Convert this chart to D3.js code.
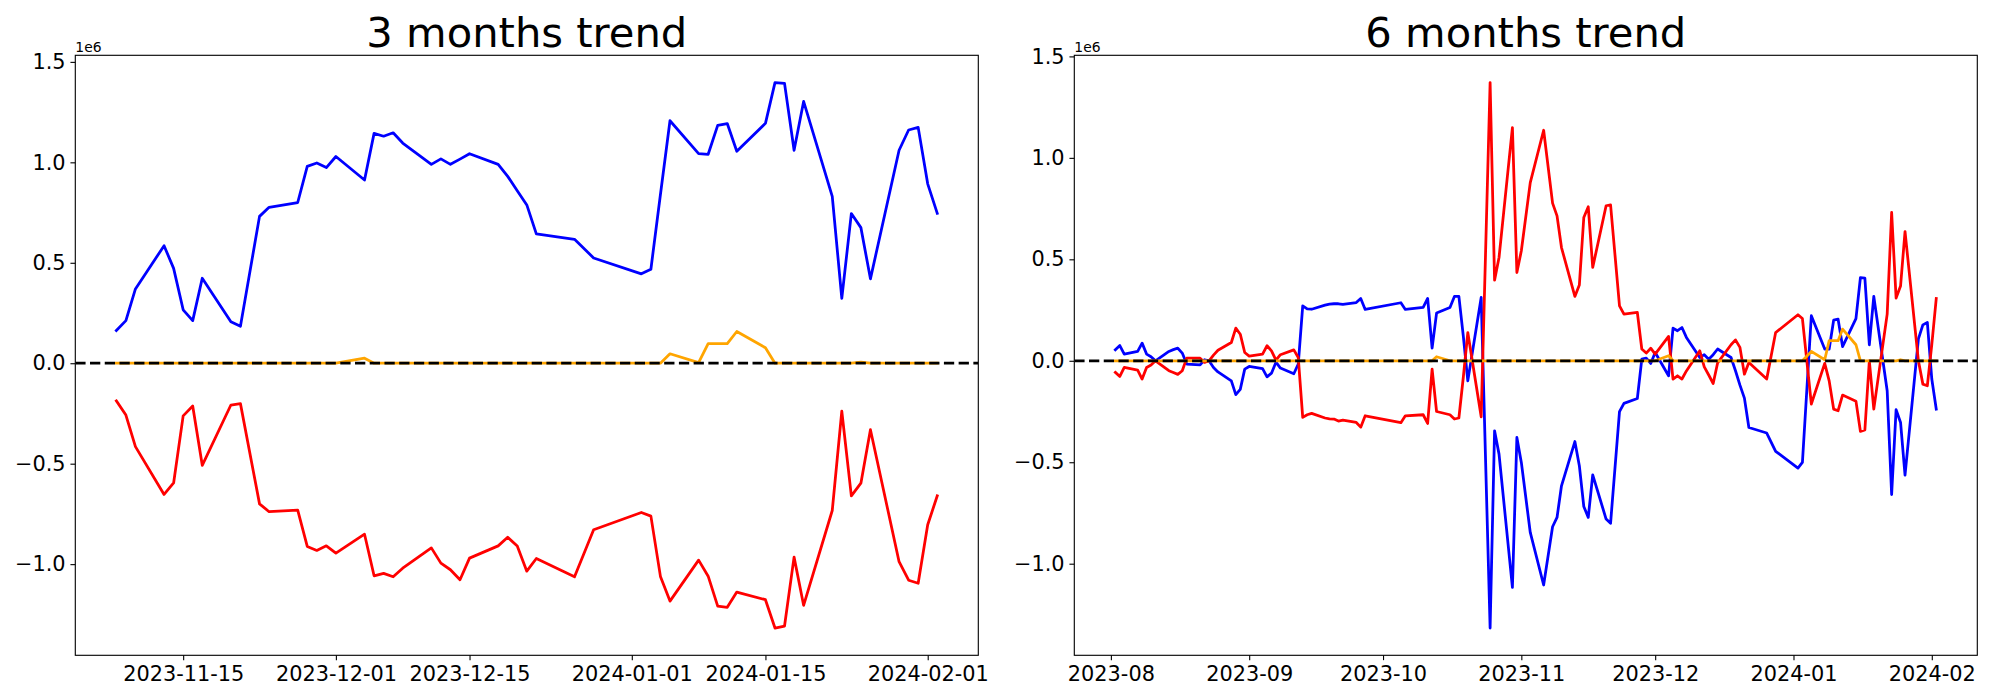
<!DOCTYPE html>
<html>
<head>
<meta charset="utf-8">
<script src="https://cdn.jsdelivr.net/npm/d3@7"></script>
<style>
  html, body { margin: 0; padding: 0; background: #ffffff; }
  svg { display: block; }
  text { font-family: "DejaVu Sans", sans-serif; }
</style>
</head>
<body>
<svg id="chart" width="2000" height="700"></svg>
<script>
// ---------------- data: 3 months ----------------
const dates3 = ["2023-11-08","2023-11-09","2023-11-10","2023-11-13","2023-11-14","2023-11-15","2023-11-16","2023-11-17",
  "2023-11-20","2023-11-21","2023-11-23","2023-11-24","2023-11-27","2023-11-28","2023-11-29","2023-11-30","2023-12-01",
  "2023-12-04","2023-12-05","2023-12-06","2023-12-07","2023-12-08","2023-12-11","2023-12-12","2023-12-13","2023-12-14",
  "2023-12-15","2023-12-18","2023-12-19","2023-12-20","2023-12-21","2023-12-22","2023-12-26","2023-12-28","2024-01-02",
  "2024-01-03","2024-01-04","2024-01-05","2024-01-08","2024-01-09","2024-01-10","2024-01-11","2024-01-12","2024-01-15",
  "2024-01-16","2024-01-17","2024-01-18","2024-01-19","2024-01-22","2024-01-23","2024-01-24","2024-01-25","2024-01-26",
  "2024-01-29","2024-01-30","2024-01-31","2024-02-01","2024-02-02"];
const blue3 = [0.163,0.212,0.370,0.585,0.472,0.266,0.212,0.423,
  0.207,0.184,0.731,0.776,0.800,0.980,0.997,0.974,1.029,
  0.912,1.144,1.130,1.147,1.096,0.990,1.017,0.990,1.016,
  1.043,0.990,0.930,0.859,0.788,0.644,0.617,0.524,0.445,
  0.468,0.840,1.207,1.043,1.040,1.184,1.193,1.055,1.194,
  1.397,1.393,1.060,1.303,0.831,0.323,0.745,0.675,0.420,
  1.060,1.161,1.174,0.893,0.746];
const red3 = [-0.187,-0.258,-0.415,-0.653,-0.596,-0.262,-0.213,-0.508,
  -0.208,-0.201,-0.700,-0.739,-0.731,-0.912,-0.932,-0.909,-0.945,
  -0.851,-1.058,-1.046,-1.063,-1.020,-0.919,-0.995,-1.028,-1.078,
  -0.970,-0.909,-0.866,-0.910,-1.035,-0.972,-1.063,-0.829,-0.743,
  -0.761,-1.061,-1.184,-0.980,-1.060,-1.209,-1.215,-1.139,-1.177,
  -1.318,-1.308,-0.965,-1.205,-0.733,-0.239,-0.660,-0.597,-0.331,
  -0.988,-1.080,-1.095,-0.804,-0.660];
const orange3 = [0,0,0,0,0,0,0,0,
  0,0,0,0,0,0,0,0,0,
  0.025,0,0,0,0,0,0,0,0,
  0,0,0,0,0,0,0,0,0,
  0,0,0.047,0.003,0.098,0.098,0.098,0.158,0.077,
  0,0,0,0,0,0,0,0.005,0,
  0,0,0,0,0];
const xTicks3 = ["2023-11-15","2023-12-01","2023-12-15","2024-01-01","2024-01-15","2024-02-01"];

// ---------------- data: 6 months ----------------
const dates6 = ["2023-08-02","2023-08-03","2023-08-04","2023-08-07","2023-08-08","2023-08-09","2023-08-10","2023-08-11",
  "2023-08-14","2023-08-15","2023-08-16","2023-08-17","2023-08-18","2023-08-21","2023-08-22","2023-08-23","2023-08-24",
  "2023-08-25","2023-08-28","2023-08-29","2023-08-30","2023-08-31","2023-09-01","2023-09-04","2023-09-05","2023-09-06",
  "2023-09-07","2023-09-08","2023-09-11","2023-09-12","2023-09-13","2023-09-14","2023-09-15","2023-09-18","2023-09-19",
  "2023-09-20","2023-09-21","2023-09-22","2023-09-25","2023-09-26","2023-09-27","2023-10-05","2023-10-06","2023-10-10",
  "2023-10-11","2023-10-12","2023-10-13","2023-10-16","2023-10-17","2023-10-18","2023-10-19","2023-10-20","2023-10-23",
  "2023-10-25","2023-10-26","2023-10-27","2023-10-30","2023-10-31","2023-11-01","2023-11-03","2023-11-06","2023-11-08",
  "2023-11-09","2023-11-10","2023-11-13","2023-11-14","2023-11-15","2023-11-16","2023-11-17","2023-11-20","2023-11-21",
  "2023-11-23","2023-11-24","2023-11-27","2023-11-28","2023-11-29","2023-11-30","2023-12-01","2023-12-04","2023-12-05",
  "2023-12-06","2023-12-07","2023-12-08","2023-12-11","2023-12-12","2023-12-13","2023-12-14","2023-12-15","2023-12-18",
  "2023-12-19","2023-12-20","2023-12-21","2023-12-22","2023-12-26","2023-12-28","2024-01-02","2024-01-03","2024-01-05",
  "2024-01-08","2024-01-09","2024-01-10","2024-01-11","2024-01-12","2024-01-15","2024-01-16","2024-01-17","2024-01-18",
  "2024-01-19","2024-01-22","2024-01-23","2024-01-24","2024-01-25","2024-01-26","2024-01-29","2024-01-30","2024-01-31",
  "2024-02-01","2024-02-02"];
const blue6 = [0.054,0.075,0.033,0.046,0.087,0.033,0.020,0.000,
  0.046,0.055,0.062,0.038,-0.016,-0.020,0.005,0.000,-0.033,
  -0.055,-0.099,-0.167,-0.141,-0.041,-0.028,-0.039,-0.079,-0.061,
  -0.007,-0.036,-0.064,-0.016,0.271,0.256,0.254,0.274,0.279,
  0.281,0.281,0.278,0.287,0.307,0.253,0.286,0.253,0.263,
  0.307,0.062,0.235,0.263,0.317,0.317,0.120,-0.099,0.312,
  -1.317,-0.345,-0.460,-1.117,-0.378,-0.501,-0.846,-1.105,-0.818,
  -0.772,-0.616,-0.398,-0.517,-0.718,-0.772,-0.562,-0.780,-0.801,
  -0.251,-0.210,-0.186,0.008,0.013,-0.013,0.041,-0.074,0.161,
  0.148,0.164,0.115,0.016,0.030,0.008,0.030,0.058,0.016,
  -0.049,-0.120,-0.184,-0.329,-0.356,-0.446,-0.529,-0.501,0.222,
  0.058,0.058,0.200,0.205,0.070,0.208,0.410,0.407,0.079,
  0.317,-0.148,-0.659,-0.241,-0.304,-0.563,0.108,0.177,0.189,
  -0.090,-0.238];
const red6 = [-0.057,-0.077,-0.033,-0.046,-0.090,-0.033,-0.021,0.000,
  -0.049,-0.058,-0.067,-0.049,0.013,0.013,-0.008,0.000,0.028,
  0.052,0.090,0.161,0.131,0.041,0.023,0.033,0.074,0.049,
  0.003,0.030,0.054,0.016,-0.279,-0.266,-0.259,-0.282,-0.286,
  -0.287,-0.297,-0.292,-0.304,-0.327,-0.271,-0.305,-0.271,-0.266,
  -0.309,-0.041,-0.250,-0.266,-0.287,-0.282,-0.080,0.139,-0.276,
  1.371,0.397,0.509,1.149,0.435,0.542,0.878,1.136,0.777,
  0.714,0.558,0.317,0.373,0.706,0.759,0.460,0.764,0.768,
  0.271,0.230,0.238,0.058,0.038,0.062,0.033,0.120,-0.090,
  -0.074,-0.090,-0.050,0.049,-0.030,-0.070,-0.112,-0.010,0.079,
  0.103,0.066,-0.066,-0.008,-0.090,0.139,0.227,0.208,-0.213,
  -0.013,-0.099,-0.238,-0.246,-0.169,-0.199,-0.348,-0.341,0.000,
  -0.238,0.230,0.731,0.309,0.369,0.637,0.000,-0.115,-0.123,
  0.080,0.307];
const orange6 = [0,0,0,0,0,0,0,0,
  0,0,0,0,0,0,0,0,0,
  0,0,0,0,0,0,0,0,0,
  0,0,0,0,0,0,0,0,0,
  0,0,0,0,0,0,0,0,0,
  0,0,0.020,0,0,0,0,0,0,
  0,0,0,0,0,0,0,0,0,
  0,0,0,0,0,0,0,0,0,
  0,0,0,0,0,0,0,0.025,0,
  0,0,0,0,0,0,0,0,0,
  0,0,0,0,0,0,0,0,0.046,
  0.005,0.099,0.099,0.099,0.156,0.079,0,0,0,
  0,0,0,0,0.005,0,0,0,0,
  0,0];
const xTicks6 = ["2023-08-01","2023-09-01","2023-10-01","2023-11-01","2023-12-01","2024-01-01","2024-02-01"];
const yTicks = [-1.0,-0.5,0.0,0.5,1.0,1.5];
const titles = ["3 months trend","6 months trend"];

// ---------------- drawing ----------------
const svg = d3.select("#chart");
svg.append("rect").attr("width",2000).attr("height",700).attr("fill","#fff");
const parse = d3.utcParse("%Y-%m-%d");
const PT = 100/72;

function panel(opts){
  const {left, right, top, bottom, dates, blue, red, orange, xTicks, xFmt, title, id} = opts;
  const ds = dates.map(parse);
  const ext = d3.extent(ds);
  const span = ext[1]-ext[0];
  const x = d3.scaleUtc()
    .domain([new Date(+ext[0]-span*0.05), new Date(+ext[1]+span*0.05)])
    .range([left,right]);
  const all = blue.concat(red, orange);
  const lo = d3.min(all), hi = d3.max(all), pad = (hi-lo)*0.05;
  const y = d3.scaleLinear().domain([lo-pad, hi+pad]).range([bottom, top]);

  const g = svg.append("g");
  g.append("clipPath").attr("id","clip"+id).append("rect")
    .attr("x",left).attr("y",top).attr("width",right-left).attr("height",bottom-top);
  const plot = g.append("g").attr("clip-path","url(#clip"+id+")");

  const series = [[blue,"#0000ff"],[red,"#ff0000"],[orange,"#ffa500"]];
  series.forEach(([vals,col]) => {
    const line = d3.line().x((d,i)=>x(ds[i])).y(d=>y(d));
    plot.append("path").datum(vals).attr("d",line)
      .attr("fill","none").attr("stroke",col).attr("stroke-width",2*PT)
      .attr("stroke-linejoin","round").attr("stroke-linecap","square");
  });
  // zero line
  plot.append("line").attr("x1",left).attr("x2",right).attr("y1",y(0)).attr("y2",y(0))
    .attr("stroke","#000").attr("stroke-width",2*PT)
    .attr("stroke-dasharray",(3.7*2*PT)+","+(1.6*2*PT));

  // axes
  const ya = d3.axisLeft(y).tickValues(yTicks).tickSize(3.5*PT).tickPadding(3.5*PT)
    .tickFormat(d => d3.format(".1f")(d).replace("-","\u2212"));
  const yg = g.append("g").attr("transform",`translate(${left},0)`).call(ya);
  const xa = d3.axisBottom(x).tickValues(xTicks.map(parse)).tickSize(3.5*PT).tickPadding(3.5*PT+1.2)
    .tickFormat(xFmt);
  const xg = g.append("g").attr("transform",`translate(0,${bottom})`).call(xa);
  [yg,xg].forEach(a => {
    a.select(".domain").remove();
    a.selectAll(".tick line").attr("stroke","#000").attr("stroke-width",0.8*PT);
    a.selectAll(".tick text").attr("fill","#000").style("font-size","20.83px")
      .style("font-family","'DejaVu Sans', sans-serif");
  });
  // frame
  g.append("rect").attr("x",left).attr("y",top).attr("width",right-left).attr("height",bottom-top)
    .attr("fill","none").attr("stroke","#000").attr("stroke-width",0.8*PT);
  // offset text
  g.append("text").attr("x",left).attr("y",top-3.8).text("1e6")
    .style("font-size","13.9px").attr("fill","#000");
  // title
  g.append("text").attr("x",(left+right)/2).attr("y",top-8.6).attr("text-anchor","middle")
    .text(title).style("font-size","41.67px").attr("fill","#000");
}

panel({id:1,left:75.3,right:978.3,top:55.3,bottom:655.3,dates:dates3,blue:blue3,red:red3,orange:orange3,
  xTicks:xTicks3, xFmt:d3.utcFormat("%Y-%m-%d"), title:titles[0]});
panel({id:2,left:1074.3,right:1977.3,top:55.3,bottom:655.3,dates:dates6,blue:blue6,red:red6,orange:orange6,
  xTicks:xTicks6, xFmt:d3.utcFormat("%Y-%m"), title:titles[1]});
</script>
</body>
</html>
